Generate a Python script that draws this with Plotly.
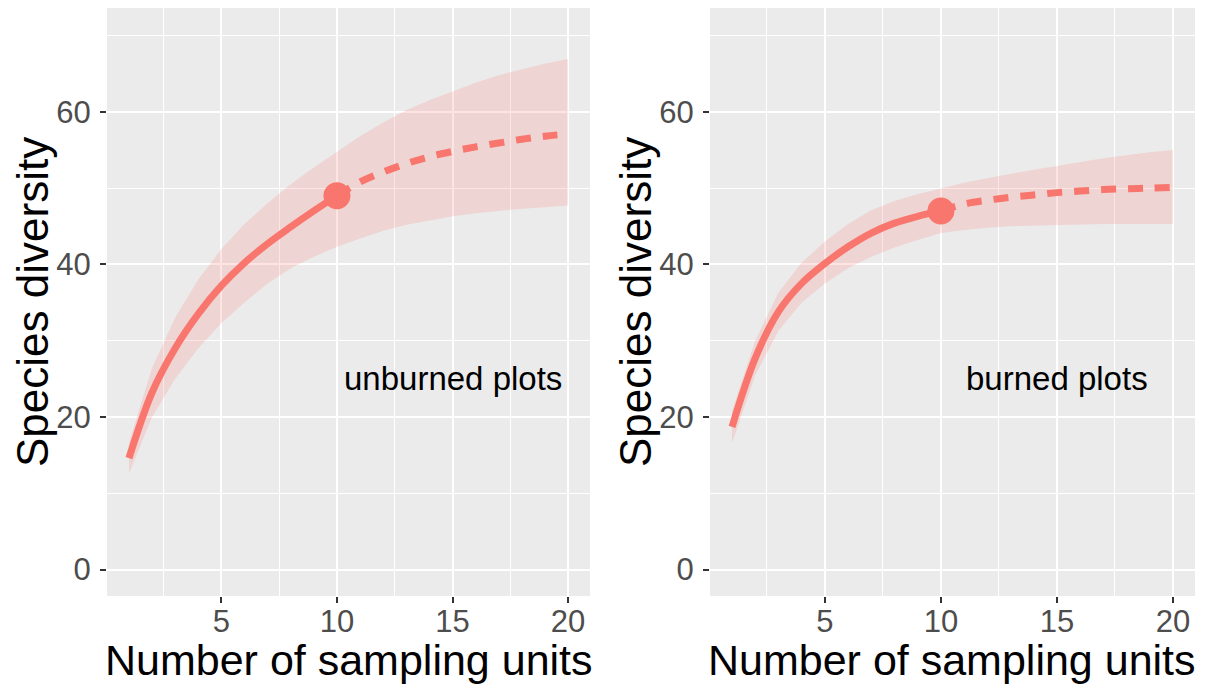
import plotly.graph_objects as go

# ---- data ----
units = list(range(1, 21))
obs_units = list(range(1, 11))
ext_units = list(range(10, 21))

unburned_obs = [14.6, 23.2, 29.0, 33.5, 37.2, 40.2, 42.7, 44.9, 47.0, 49.0]
unburned_ext = [49.0, 50.8, 52.1, 53.2, 54.1, 54.8, 55.4, 55.9, 56.4, 56.8, 57.1]
unburned_lo = [12.6, 20.0, 25.0, 29.0, 32.3, 35.0, 37.5, 39.5, 41.0, 42.3,
               43.4, 44.4, 45.2, 45.8, 46.3, 46.7, 47.0, 47.3, 47.5, 47.7]
unburned_hi = [16.6, 26.4, 33.0, 38.0, 42.0, 45.3, 48.0, 50.5, 52.7, 54.8,
               56.8, 58.6, 60.2, 61.5, 62.7, 63.8, 64.8, 65.6, 66.3, 66.9]

burned_obs = [18.7, 27.7, 33.8, 37.5, 40.1, 42.3, 44.1, 45.4, 46.3, 47.0]
burned_ext = [47.0, 47.9, 48.4, 48.8, 49.1, 49.4, 49.6, 49.8, 49.9, 50.0, 50.1]
burned_lo = [16.6, 25.5, 31.3, 35.0, 37.5, 39.5, 41.0, 42.2, 43.2, 44.1,
             44.5, 44.8, 45.0, 45.1, 45.2, 45.25, 45.3, 45.3, 45.3, 45.3]
burned_hi = [20.8, 30.0, 36.3, 40.2, 43.0, 45.3, 47.1, 48.3, 49.2, 50.0,
             50.7, 51.3, 51.9, 52.4, 52.9, 53.4, 53.9, 54.3, 54.7, 55.0]

panel_labels = ["unburned plots", "burned plots"]
x_title = "Number of sampling units"
y_title = "Species diversity"
x_ticks = [5, 10, 15, 20]
y_ticks = [0, 20, 40, 60]

COL = "#F8766D"
FILL = "rgba(248,118,109,0.2)"
FONT = "Liberation Sans, Arial, sans-serif"

fig = go.Figure()

panels = [
    ("x", "y", unburned_obs, unburned_ext, unburned_lo, unburned_hi),
    ("x2", "y2", burned_obs, burned_ext, burned_lo, burned_hi),
]
for xa, ya, obs, ext, lo, hi in panels:
    fig.add_trace(go.Scatter(x=units, y=lo, mode="lines", line=dict(width=0),
                             xaxis=xa, yaxis=ya, showlegend=False, hoverinfo="skip"))
    fig.add_trace(go.Scatter(x=units, y=hi, mode="lines", line=dict(width=0),
                             fill="tonexty", fillcolor=FILL,
                             xaxis=xa, yaxis=ya, showlegend=False, hoverinfo="skip"))
    fig.add_trace(go.Scatter(x=ext_units, y=ext, mode="lines",
                             line=dict(color=COL, width=7, dash="15px,12px", shape="spline"),
                             xaxis=xa, yaxis=ya, showlegend=False))
    fig.add_trace(go.Scatter(x=obs_units, y=obs, mode="lines",
                             line=dict(color=COL, width=7, shape="spline"),
                             xaxis=xa, yaxis=ya, showlegend=False))
    fig.add_trace(go.Scatter(x=[obs_units[-1]], y=[obs[-1]], mode="markers",
                             marker=dict(color=COL, size=27),
                             xaxis=xa, yaxis=ya, showlegend=False))

# page body adds an 8px offset; figure coordinates are reference pixels minus 8
W, H = 1197, 683
OFF = 8
ydom = [1 - (596 - OFF) / H, 1 - (8 - OFF) / H]
xdoms = [[(107 - OFF) / W, (590 - OFF) / W], [(710 - OFF) / W, (1195 - OFF) / W]]

axis_common = dict(
    showline=False, zeroline=False,
    gridcolor="white", gridwidth=2.2,
    ticks="outside", ticklen=6, tickwidth=2, tickcolor="#333333",
    tickfont=dict(family=FONT, size=31, color="#4D4D4D"),
)

for i, (xa, ya) in enumerate([("xaxis", "yaxis"), ("xaxis2", "yaxis2")]):
    fig.update_layout({
        xa: dict(axis_common, domain=xdoms[i], anchor="y" if i == 0 else "y2",
                 range=[0.05, 20.95], tickvals=x_ticks, ticklabelstandoff=-8,
                 minor=dict(tickvals=[2.5, 7.5, 12.5, 17.5], showgrid=True,
                            gridcolor="white", gridwidth=1.1, ticks="")),
        ya: dict(axis_common, domain=ydom, anchor="x" if i == 0 else "x2",
                 range=[-3.47, 73.6], tickvals=y_ticks, ticklabelstandoff=3,
                 minor=dict(tickvals=[10, 30, 50, 70], showgrid=True,
                            gridcolor="white", gridwidth=1.1, ticks="")),
    })

panel_off = [0, 603]
for i, lab in enumerate(panel_labels):
    fig.add_annotation(x=15, y=25, text=lab, showarrow=False,
                       xref="x" if i == 0 else "x2", yref="y" if i == 0 else "y2",
                       font=dict(family=FONT, size=33, color="black"))
    # axis titles (positioned in figure pixels)
    fig.add_annotation(x=(348.5 + panel_off[i] - OFF) / W, y=1 - (660 - OFF) / H,
                       xref="paper", yref="paper", xanchor="center", yanchor="middle",
                       text=x_title, showarrow=False,
                       font=dict(family=FONT, size=43, color="black"))
    fig.add_annotation(x=(33 + panel_off[i] - OFF) / W, y=1 - (302 - OFF) / H,
                       xref="paper", yref="paper", xanchor="center", yanchor="middle",
                       text=y_title, showarrow=False, textangle=-90,
                       font=dict(family=FONT, size=44, color="black"))

fig.update_layout(
    width=W, height=H,
    margin=dict(l=0, r=0, t=0, b=0),
    paper_bgcolor="white", plot_bgcolor="#EBEBEB",
    font=dict(family=FONT),
)

fig.write_html("out.html")
